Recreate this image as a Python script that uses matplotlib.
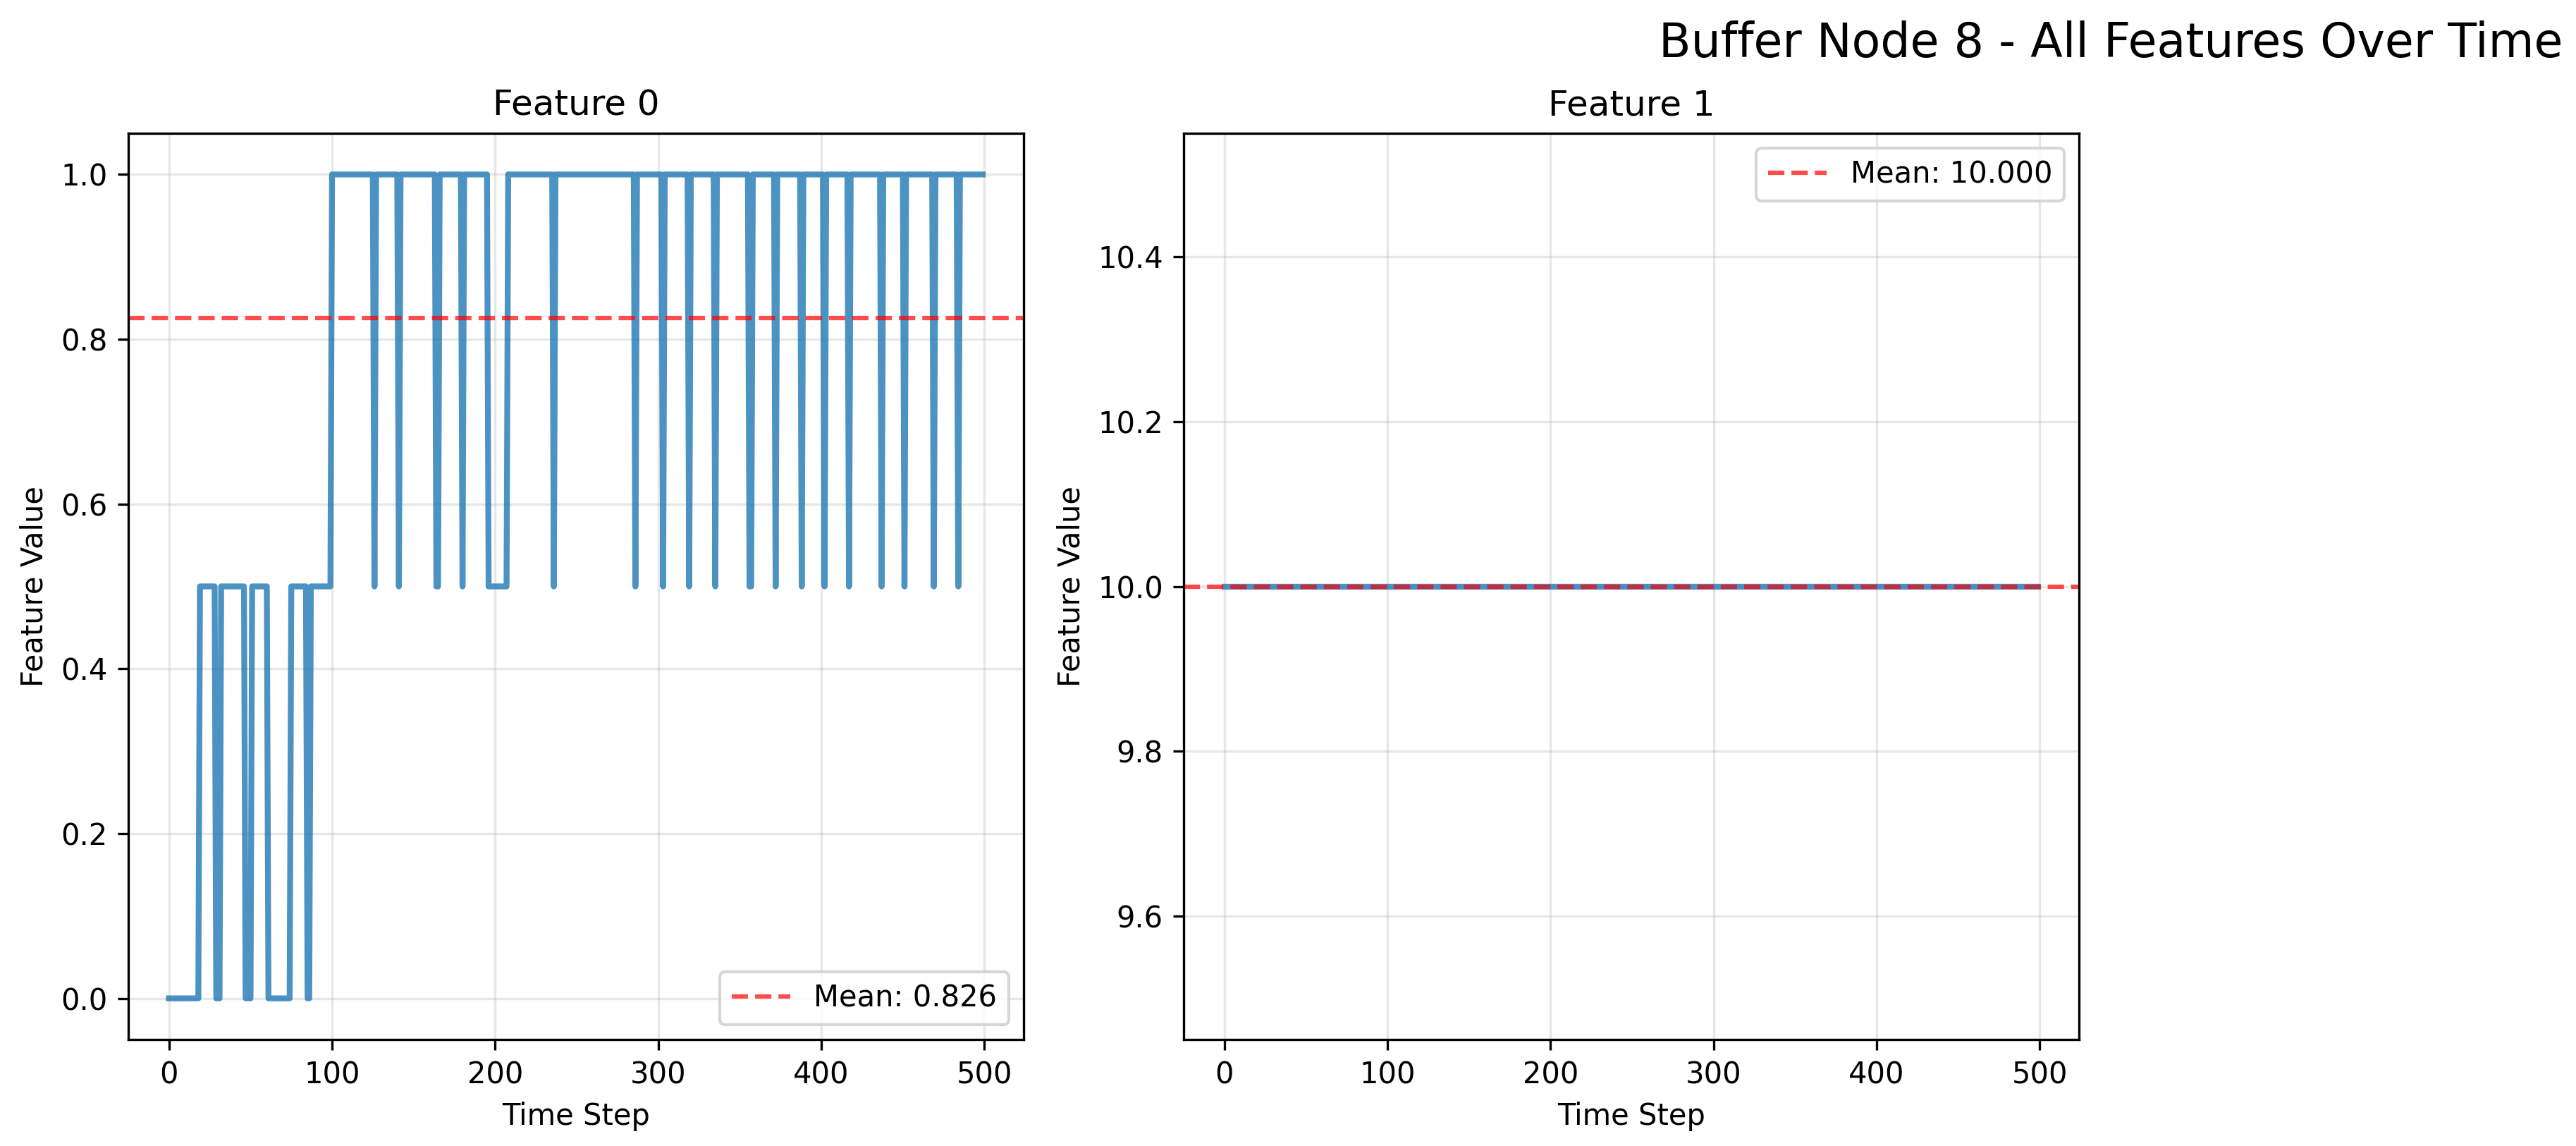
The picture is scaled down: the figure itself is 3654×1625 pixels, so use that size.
import numpy as np
import matplotlib
matplotlib.use('Agg')
import matplotlib.pyplot as plt

# number of time steps in the buffer
n_steps = 500

# feature 0 is piecewise constant: step where a new level starts, and that level
f0_starts = [0, 19, 29, 32, 47, 51, 61, 75, 85, 87,
             100, 126, 127, 141, 142, 164, 166, 180, 181, 196, 208,
             236, 237, 286, 287, 303, 304, 319, 320, 335, 336,
             356, 358, 372, 373, 388, 389, 402, 403, 417, 418,
             437, 438, 451, 452, 469, 470, 484, 485]
f0_levels = [0.0, 0.5, 0.0, 0.5, 0.0, 0.5, 0.0, 0.5, 0.0, 0.5,
             1.0, 0.5, 1.0, 0.5, 1.0, 0.5, 1.0, 0.5, 1.0, 0.5, 1.0,
             0.5, 1.0, 0.5, 1.0, 0.5, 1.0, 0.5, 1.0, 0.5, 1.0,
             0.5, 1.0, 0.5, 1.0, 0.5, 1.0, 0.5, 1.0, 0.5, 1.0,
             0.5, 1.0, 0.5, 1.0, 0.5, 1.0, 0.5, 1.0]

# feature 1 never changes
f1_level = 10.0

time = np.arange(n_steps)
run_len = np.diff(f0_starts + [n_steps])
feature0 = np.repeat(f0_levels, run_len)
feature1 = np.full(n_steps, f1_level)

features = [feature0, feature1]
legend_loc = ['lower right', 'upper right']

fig = plt.figure(figsize=(3654 / 300, 1625 / 300), dpi=300)
ax_left = [0.0498, 0.4595]

for i, values in enumerate(features):
    ax = fig.add_axes([ax_left[i], 0.0929, 0.3475, 0.7908])
    ax.plot(time, values, color='#1f77b4', linewidth=2, alpha=0.8)
    mean = values.mean()
    ax.axhline(mean, color='red', linestyle='--', alpha=0.7,
               label='Mean: {0:.3f}'.format(mean))
    ax.set_title('Feature {}'.format(i))
    ax.set_xlabel('Time Step')
    ax.set_ylabel('Feature Value')
    ax.grid(True, alpha=0.3)
    ax.legend(loc=legend_loc[i])

fig.text(0.8194, 0.962, 'Buffer Node 8 - All Features Over Time',
         ha='center', va='center', fontsize=16)

fig.savefig('out.png', dpi=300)
